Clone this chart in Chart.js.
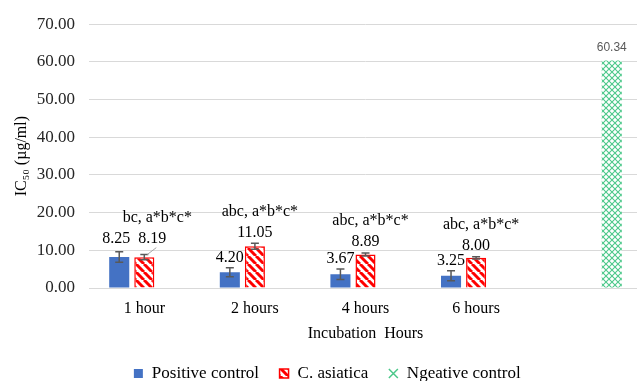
<!DOCTYPE html>
<html>
<head>
<meta charset="utf-8">
<script src="https://cdn.jsdelivr.net/npm/chart.js@4.4.1/dist/chart.umd.min.js"></script>
<style>
  html, body { margin: 0; padding: 0; background: #fff; overflow: hidden; }
  #chart { display: block; }
</style>
</head>
<body>
<canvas id="chart" width="645" height="381"></canvas>
<script>
// Data.
var categories = ['1 hour', '2 hours', '4 hours', '6 hours', ''];
var positiveControl = [8.25, 4.20, 3.67, 3.25, null];
var positiveError = [1.4, 1.2, 1.4, 1.3, null];
var asiatica = [8.19, 11.05, 8.89, 8.00, null];
var asiaticaError = [0.7, 0.8, 0.4, 0.3, null];
var negativeControl = [null, null, null, null, 60.34];
var letterLabels = ['bc, a*b*c*', 'abc, a*b*c*', 'abc, a*b*c*', 'abc, a*b*c*', ''];
var seriesNames = ['Positive control', 'C. asiatica', 'Ngeative control'];

var SERIF = '"Liberation Serif", "Times New Roman", serif';

// Red diagonal stripes on white.
function stripePattern() {
  var c = document.createElement('canvas');
  c.width = 8;
  c.height = 8;
  var g = c.getContext('2d');
  g.fillStyle = '#fff';
  g.fillRect(0, 0, 8, 8);
  g.strokeStyle = '#ff0000';
  g.lineWidth = 3;
  for (var k = -8; k <= 8; k += 8) {
    g.beginPath();
    g.moveTo(k, 0);
    g.lineTo(k + 8, 8);
    g.stroke();
  }
  return g.createPattern(c, 'repeat');
}

// Small green crosses.
function crossPattern() {
  var c = document.createElement('canvas');
  c.width = 6;
  c.height = 6;
  var g = c.getContext('2d');
  g.fillStyle = '#fff';
  g.fillRect(0, 0, 6, 6);
  g.strokeStyle = '#4cc88a';
  g.lineWidth = 1.1;
  g.beginPath();
  g.moveTo(0, 0);
  g.lineTo(6, 6);
  g.moveTo(6, 0);
  g.lineTo(0, 6);
  g.stroke();
  return g.createPattern(c, 'repeat');
}

var stripes = stripePattern();
var crosses = crossPattern();

// Error bars, value labels and significance letters.
var annotations = {
  id: 'annotations',
  afterDatasetsDraw: function (chart) {
    var ctx = chart.ctx;
    var y = chart.scales.y;
    var blueMeta = chart.getDatasetMeta(0);
    var redMeta = chart.getDatasetMeta(1);
    var greenMeta = chart.getDatasetMeta(2);

    ctx.save();

    function errorBar(x, v, e) {
      var top = y.getPixelForValue(v + e);
      var bottom = y.getPixelForValue(v - e);
      ctx.strokeStyle = '#595959';
      ctx.lineWidth = 1.5;
      ctx.beginPath();
      ctx.moveTo(x, top);
      ctx.lineTo(x, bottom);
      ctx.moveTo(x - 4, top);
      ctx.lineTo(x + 4, top);
      ctx.moveTo(x - 4, bottom);
      ctx.lineTo(x + 4, bottom);
      ctx.stroke();
    }

    ctx.font = '16px ' + SERIF;
    ctx.textAlign = 'center';
    ctx.textBaseline = 'middle';

    for (var i = 0; i < categories.length; i++) {
      if (positiveControl[i] == null) {
        continue;
      }

      var bx = blueMeta.data[i].x;
      var rx = redMeta.data[i].x;

      errorBar(bx, positiveControl[i], positiveError[i]);
      errorBar(rx, asiatica[i], asiaticaError[i]);

      var blueText = positiveControl[i].toFixed(2);
      var redText = asiatica[i].toFixed(2);
      var blueY = y.getPixelForValue(positiveControl[i] + positiveError[i]) - 10;
      var redY = y.getPixelForValue(asiatica[i] + asiaticaError[i]) - 11;
      var blueX = bx;
      var redX = rx;
      var moved = false;

      // Labels that would overlap are pushed apart, with a leader line.
      if (Math.abs(blueY - redY) < 12) {
        blueY = redY = Math.min(blueY, redY) - 3;
        blueX -= 3;
        redX += 8;
        moved = true;
      }

      ctx.fillStyle = '#000';
      ctx.fillText(blueText, blueX, blueY);
      ctx.fillText(redText, redX, redY);

      if (moved) {
        ctx.strokeStyle = '#a6a6a6';
        ctx.lineWidth = 1;
        ctx.beginPath();
        ctx.moveTo(redX + 4, redY + 9);
        ctx.lineTo(rx + 3, y.getPixelForValue(asiatica[i] + asiaticaError[i]));
        ctx.stroke();
      }

      ctx.fillText(letterLabels[i], redX + 5, redY - 21);
    }

    // Negative control value.
    ctx.font = '12px "Liberation Sans", Arial, sans-serif';
    ctx.fillStyle = '#595959';
    for (var j = 0; j < categories.length; j++) {
      if (negativeControl[j] == null) {
        continue;
      }
      var g = greenMeta.data[j];
      ctx.fillText(negativeControl[j].toFixed(2), g.x, g.y - 13);
    }

    ctx.restore();
  }
};

var data = {
  labels: categories,
  datasets: [
    {
      label: seriesNames[0],
      data: positiveControl,
      backgroundColor: '#4472c4',
      borderWidth: 0,
      pointStyle: 'rect'
    },
    {
      label: seriesNames[1],
      data: asiatica,
      backgroundColor: stripes,
      borderColor: '#ff0000',
      borderWidth: 1.5,
      pointStyle: 'rect'
    },
    {
      label: seriesNames[2],
      data: negativeControl,
      backgroundColor: crosses,
      borderColor: '#4cc88a',
      borderWidth: 0,
      pointStyle: 'crossRot'
    }
  ]
};

var options = {
  responsive: false,
  animation: false,
  layout: {
    padding: { top: 13, left: 12, right: 3, bottom: -11 }
  },
  datasets: {
    bar: {
      categoryPercentage: 0.68,
      barPercentage: 0.8
    }
  },
  scales: {
    x: {
      grid: { display: false },
      border: { display: false },
      afterFit: function (scale) {
        scale.height = 57;
      },
      ticks: {
        color: '#000',
        padding: 3,
        font: { family: SERIF, size: 16 }
      },
      title: {
        display: true,
        text: 'Incubation  Hours',
        color: '#000',
        padding: { top: 0, bottom: 2 },
        font: { family: SERIF, size: 16 }
      }
    },
    y: {
      min: 0,
      max: 70,
      grid: { color: '#d9d9d9', drawTicks: false },
      border: { display: false },
      afterFit: function (scale) {
        scale.width = 77;
      },
      ticks: {
        stepSize: 10,
        color: '#262626',
        padding: 14,
        font: { family: SERIF, size: 17 },
        callback: function (v) {
          return v.toFixed(2);
        }
      },
      title: {
        display: true,
        text: 'IC\u2085\u2080 (\u00b5g/ml)',
        color: '#000',
        padding: { top: 0, bottom: 0 },
        font: { family: SERIF, size: 16 }
      }
    }
  },
  plugins: {
    tooltip: { enabled: false },
    legend: {
      position: 'bottom',
      labels: {
        usePointStyle: true,
        boxWidth: 10,
        boxHeight: 9,
        padding: 20,
        color: '#000',
        font: { family: SERIF, size: 17 },
        generateLabels: function (chart) {
          return chart.data.datasets.map(function (ds, i) {
            return {
              text: ds.label,
              fillStyle: ds.backgroundColor,
              strokeStyle: i == 2 ? '#4cc88a' : (ds.borderColor || ds.backgroundColor),
              lineWidth: i == 2 ? 1.5 : ds.borderWidth,
              pointStyle: ds.pointStyle,
              datasetIndex: i
            };
          });
        }
      }
    }
  }
};

new Chart(document.getElementById('chart').getContext('2d'), {
  type: 'bar',
  data: data,
  options: options,
  plugins: [annotations]
});
</script>
</body>
</html>
